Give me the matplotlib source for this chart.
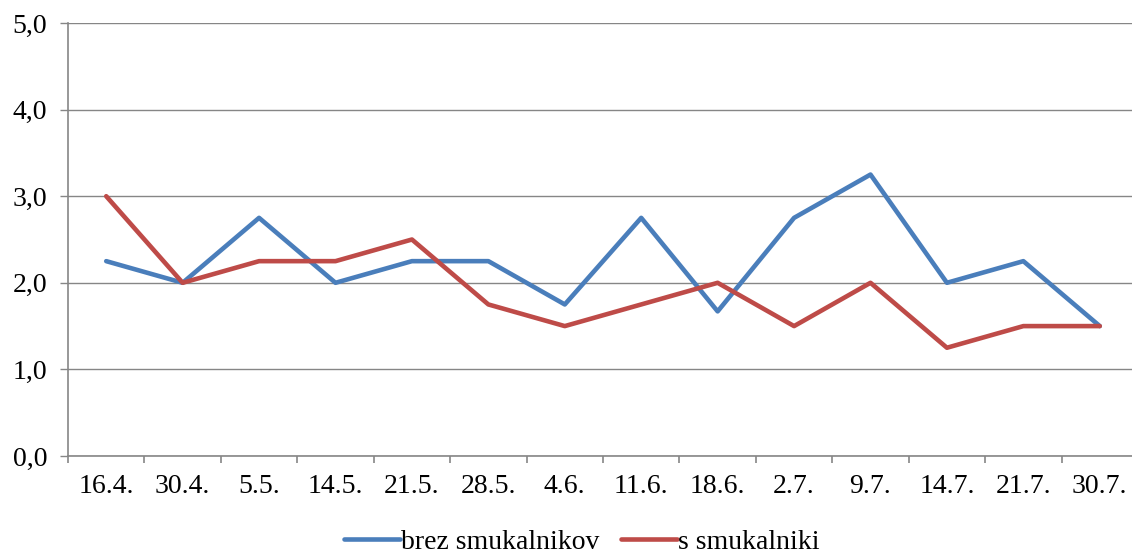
import numpy as np
import matplotlib.pyplot as plt
from matplotlib.ticker import FixedLocator

plt.rcParams['font.family'] = ['Liberation Serif', 'DejaVu Serif']

# podatki
datumi = ['16.4.', '30.4.', '5.5.', '14.5.', '21.5.', '28.5.', '4.6.',
          '11.6.', '18.6.', '2.7.', '9.7.', '14.7.', '21.7.', '30.7.']
brez_smukalnikov = [2.25, 2.0, 2.75, 2.0, 2.25, 2.25, 1.75,
                    2.75, 1.67, 2.75, 3.25, 2.0, 2.25, 1.5]
s_smukalniki = [3.0, 2.0, 2.25, 2.25, 2.5, 1.75, 1.5,
                1.75, 2.0, 1.5, 2.0, 1.25, 1.5, 1.5]
y_ticks = [0, 1, 2, 3, 4, 5]

W, H = 1132, 556
fig = plt.figure(figsize=(W / 100, H / 100), dpi=100)
ax = fig.add_axes([68 / W, 100 / H, (1138 - 68) / W, (456 - 23) / H])

x = np.arange(len(datumi))
ax.plot(x, brez_smukalnikov, color='#4A7EBB', lw=3.3, label='brez smukalnikov',
        solid_joinstyle='round', solid_capstyle='round')
ax.plot(x, s_smukalniki, color='#BE4B48', lw=3.3, label='s smukalniki',
        solid_joinstyle='round', solid_capstyle='round')

grey = '#868686'
ax.set_xlim(-0.5, len(datumi) - 0.5)
ax.set_ylim(0, 5)
ax.set_yticks(y_ticks)
ax.set_yticklabels([f'{v:.1f}'.replace('.', ',') for v in y_ticks])
ax.set_xticks(x)
ax.set_xticklabels(datumi)
ax.xaxis.set_minor_locator(FixedLocator(np.arange(-0.5, len(datumi), 1)))

ax.yaxis.grid(True, color=grey, lw=1)
ax.set_axisbelow(True)
for s in ['top', 'right']:
    ax.spines[s].set_visible(False)
for s in ['left', 'bottom']:
    ax.spines[s].set_color(grey)
    ax.spines[s].set_linewidth(1.2)

ax.tick_params(axis='y', length=6, color=grey, width=1, pad=9, labelsize=20)
ax.tick_params(axis='x', which='major', length=0, pad=13, labelsize=20)
ax.tick_params(axis='x', which='minor', length=5, color=grey, width=1.2, direction='out')

fig.legend(loc='center', bbox_to_anchor=(582 / W, 1 - 542 / H), ncol=2, frameon=False,
           fontsize=20, handlelength=2.0, handletextpad=0.05, columnspacing=0.8)

fig.savefig('out.png', dpi=100)
